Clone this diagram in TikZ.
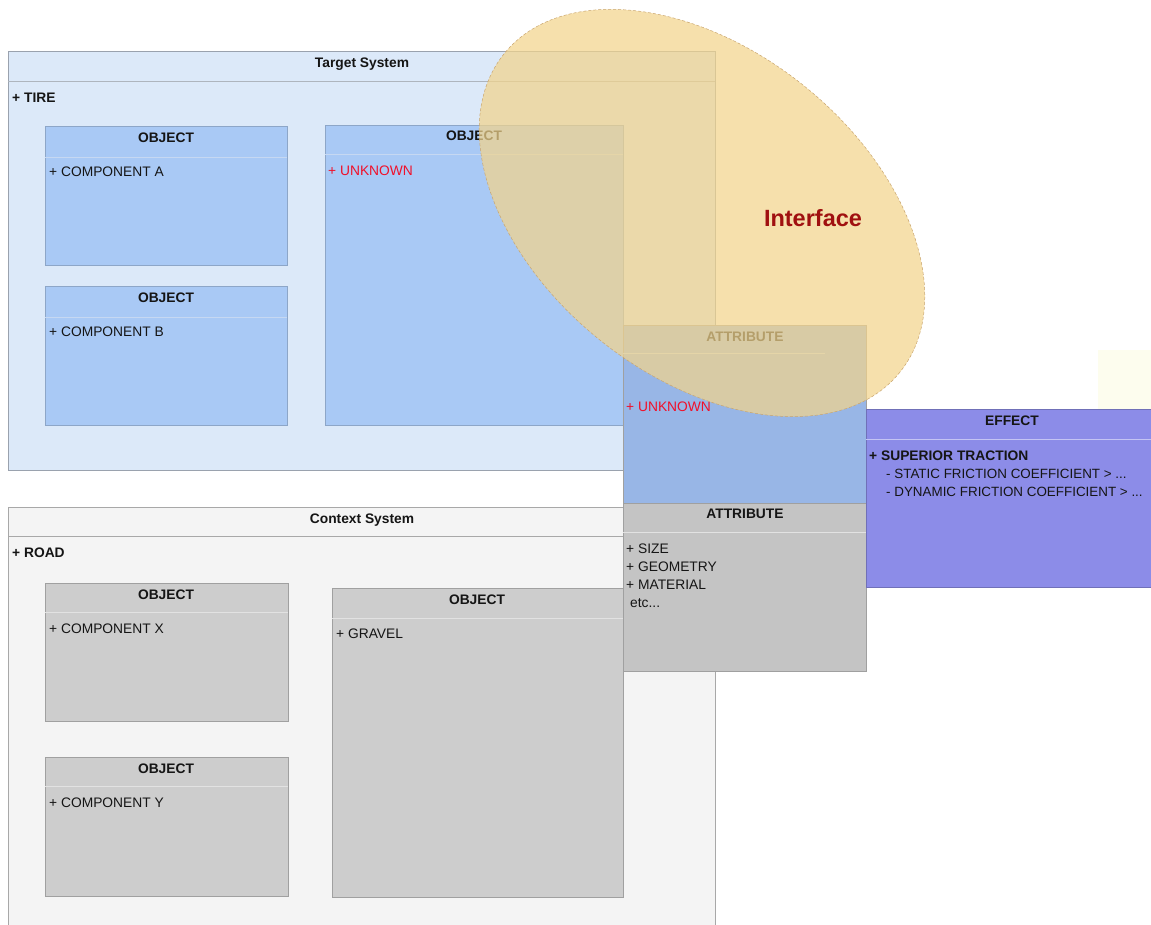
\documentclass[tikz,border=0pt]{standalone}
\usepackage{fontspec}
\setmainfont{Liberation Sans}
\definecolor{tgtfill}{HTML}{DCE9F9}
\definecolor{tgtdraw}{HTML}{9AA2AE}
\definecolor{objblue}{HTML}{A9C9F5}
\definecolor{objbluedraw}{HTML}{8DA6C8}
\definecolor{bluesep}{HTML}{C6D8F2}
\definecolor{attrblue}{HTML}{98B6E6}
\definecolor{ctxfill}{HTML}{F4F4F4}
\definecolor{ctxdraw}{HTML}{A8A8A8}
\definecolor{objgrey}{HTML}{CDCDCD}
\definecolor{attrgrey}{HTML}{C4C4C4}
\definecolor{greydraw}{HTML}{A0A0A0}
\definecolor{greysep}{HTML}{E2E2E2}
\definecolor{efffill}{HTML}{8C8CE8}
\definecolor{effdraw}{HTML}{7070B8}
\definecolor{effsep}{HTML}{C4C4F4}
\definecolor{ellfill}{HTML}{F2D48C}
\definecolor{elldraw}{HTML}{C9A56E}
\definecolor{unkred}{HTML}{F0102A}
\definecolor{intred}{HTML}{A01010}
\definecolor{faintyellow}{HTML}{FDFDEE}
\definecolor{txt}{HTML}{151515}
\tikzset{
  box/.style={anchor=north west, inner sep=0pt, outer sep=0pt, line width=0.8pt},
  lbl/.style={font=\fontsize{13.8}{16}\selectfont, text=txt, inner sep=0pt, anchor=base west},
  blbl/.style={font=\bfseries\fontsize{13.8}{16}\selectfont, text=txt, inner sep=0pt, anchor=base west},
  hdr/.style={font=\bfseries\fontsize{13.8}{16}\selectfont, text=txt, inner sep=0pt, anchor=base},
  efflbl/.style={font=\fontsize{13.4}{16}\selectfont, text=txt, inner sep=0pt, anchor=base west},
}
\begin{document}
\begin{tikzpicture}[x=1pt,y=-1pt]
\useasboundingbox (0,0) rectangle (1151,924);
\clip (0,0) rectangle (1151,924);

% faint yellow patch at right
\fill[faintyellow] (1098,350) rectangle (1151,409);

% ---------- Target System ----------
\node[box, draw=tgtdraw, fill=tgtfill, minimum width=707, minimum height=419] (tgt) at (8,51) {};
\draw[tgtdraw!80] ([yshift=-30pt]tgt.north west) -- ([yshift=-30pt]tgt.north east);
\node[hdr] (tgtT) at (362,67) {Target System};
\node[blbl] (tire) at (12,102) {+ TIRE};

\node[box, draw=objbluedraw, fill=objblue, minimum width=242, minimum height=139] (objA) at (45,126) {};
\draw[bluesep] ([yshift=-31pt]objA.north west) -- ([yshift=-31pt]objA.north east);
\node[hdr] (objAT) at (166,142) {OBJECT};
\node[lbl] (compA) at (49,176) {+ COMPONENT A};

\node[box, draw=objbluedraw, fill=objblue, minimum width=242, minimum height=139] (objB) at (45,286) {};
\draw[bluesep] ([yshift=-31pt]objB.north west) -- ([yshift=-31pt]objB.north east);
\node[hdr] (objBT) at (166,302) {OBJECT};
\node[lbl] (compB) at (49,336) {+ COMPONENT B};

\node[box, draw=objbluedraw, fill=objblue, minimum width=298, minimum height=300] (objU) at (325,125) {};
\draw[bluesep] ([yshift=-29pt]objU.north west) -- ([yshift=-29pt]objU.north east);
\node[hdr] (objUT) at (474,140) {OBJECT};
\node[lbl, text=unkred] (unkU) at (328,175) {+ UNKNOWN};

% ---------- Context System ----------
\node[box, draw=ctxdraw, fill=ctxfill, minimum width=707, minimum height=430] (ctx) at (8,507) {};
\draw[ctxdraw] ([yshift=-29pt]ctx.north west) -- ([yshift=-29pt]ctx.north east);
\node[hdr] (ctxT) at (362,523) {Context System};
\node[blbl] (road) at (12,557) {+ ROAD};

\node[box, draw=greydraw, fill=objgrey, minimum width=243, minimum height=138] (objX) at (45,583) {};
\draw[greysep] ([yshift=-29pt]objX.north west) -- ([yshift=-29pt]objX.north east);
\node[hdr] (objXT) at (166,599) {OBJECT};
\node[lbl] (compX) at (49,633) {+ COMPONENT X};

\node[box, draw=greydraw, fill=objgrey, minimum width=243, minimum height=139] (objY) at (45,757) {};
\draw[greysep] ([yshift=-29pt]objY.north west) -- ([yshift=-29pt]objY.north east);
\node[hdr] (objYT) at (166,773) {OBJECT};
\node[lbl] (compY) at (49,807) {+ COMPONENT Y};

\node[box, draw=greydraw, fill=objgrey, minimum width=291, minimum height=309] (objG) at (332,588) {};
\draw[greysep] ([yshift=-30pt]objG.north west) -- ([yshift=-30pt]objG.north east);
\node[hdr] (objGT) at (477,604) {OBJECT};
\node[lbl] (gravel) at (336,638) {+ GRAVEL};

% ---------- Attributes ----------
\node[box, draw=greydraw, fill=attrgrey, minimum width=243, minimum height=168] (attrG) at (623,503) {};
\draw[greysep] ([yshift=-29pt]attrG.north west) -- ([yshift=-29pt]attrG.north east);
\node[hdr] (attrGT) at (745,518) {ATTRIBUTE};
\node[lbl] (size) at (626,553) {+ SIZE};
\node[lbl] (geom) at (626,571) {+ GEOMETRY};
\node[lbl] (mat) at (626,589) {+ MATERIAL};
\node[lbl] (etc) at (630,607) {etc...};

\node[box, draw=greydraw, fill=attrblue, minimum width=243, minimum height=178] (attrU) at (623,325) {};
\draw[bluesep] ([yshift=-28pt]attrU.north west) -- (825,353);
\node[hdr] (attrUT) at (745,341) {ATTRIBUTE};
\node[lbl, text=unkred] (unkA) at (626,411) {+ UNKNOWN};

% ---------- Effect ----------
\node[box, draw=effdraw, fill=efffill, minimum width=300, minimum height=178] (eff) at (866,409) {};
\draw[effsep, line width=0.8pt] ([yshift=-30pt]eff.north west) -- ([yshift=-30pt]eff.north east);
\node[hdr] (effT) at (1012,425) {EFFECT};
\node[blbl] (sup) at (869,460) {+ SUPERIOR TRACTION};
\node[efflbl] (stat) at (886,478) {- STATIC FRICTION COEFFICIENT > ...};
\node[efflbl] (dyn) at (886,496) {- DYNAMIC FRICTION COEFFICIENT > ...};

% ---------- Interface ellipse ----------
\coordinate (ellC) at (702,213);
\fill[ellfill, opacity=0.72, rotate around={-38.8:(ellC)}] (ellC) ellipse [x radius=254, y radius=163];
\draw[elldraw, densely dashed, line width=0.5pt, rotate around={-38.8:(ellC)}] (ellC) ellipse [x radius=254, y radius=163];
\node[font=\bfseries\fontsize{23.5}{28}\selectfont, text=intred, inner sep=0pt, anchor=base] (iface) at (813,226) {Interface};
\end{tikzpicture}
\end{document}
